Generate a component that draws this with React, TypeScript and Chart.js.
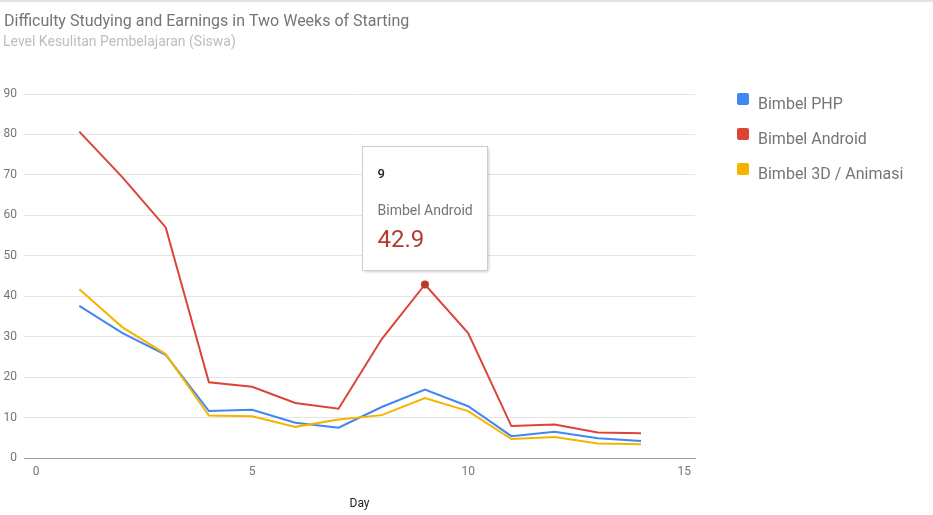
import React, { useEffect, useRef } from "react";
import { Chart, registerables } from "chart.js";

Chart.register(...registerables);

const titleText = "Difficulty Studying and Earnings in Two Weeks of Starting";
const subtitleText = "Level Kesulitan Pembelajaran (Siswa)";
const xAxisTitle = "Day";
const days = [1, 2, 3, 4, 5, 6, 7, 8, 9, 10, 11, 12, 13, 14];
const phpValues = [37.6, 30.9, 25.5, 11.6, 11.9, 8.7, 7.5, 12.6, 16.9, 12.8, 5.4, 6.5, 4.9, 4.2];
const androidValues = [80.7, 69.4, 57.0, 18.7, 17.6, 13.6, 12.2, 29.4, 42.9, 30.9, 7.9, 8.3, 6.3, 6.1];
const animasiValues = [41.7, 32.3, 25.7, 10.5, 10.3, 7.7, 9.5, 10.6, 14.8, 11.6, 4.7, 5.2, 3.6, 3.4];
const seriesNames = ["Bimbel PHP", "Bimbel Android", "Bimbel 3D / Animasi"];
const seriesColors = ["#4285f4", "#db4437", "#f4b400"];
const xTickValues = [0, 5, 10, 15];
const highlightIndex = 8;

const FONT = "Roboto, 'Noto Sans', sans-serif";

const decorPlugin = {
  id: "decor",
  afterDraw(chart: any) {
    const ctx = chart.ctx as CanvasRenderingContext2D;
    ctx.save();
    // top rule
    ctx.strokeStyle = "#e3e3e3";
    ctx.lineWidth = 2;
    ctx.beginPath();
    ctx.moveTo(0, 1);
    ctx.lineTo(chart.width, 1);
    ctx.stroke();
    // titles
    ctx.textAlign = "left";
    ctx.textBaseline = "alphabetic";
    ctx.fillStyle = "#757575";
    ctx.font = `16px ${FONT}`;
    ctx.fillText(titleText, 4, 26);
    ctx.fillStyle = "#bdbdbd";
    ctx.font = `14px ${FONT}`;
    ctx.fillText(subtitleText, 3, 46);
    // legend
    seriesNames.forEach((name, i) => {
      const y = 93 + i * 35;
      ctx.fillStyle = seriesColors[i];
      ctx.beginPath();
      (ctx as any).roundRect(737, y, 12, 12, 2);
      ctx.fill();
      ctx.fillStyle = "#757575";
      ctx.font = `16px ${FONT}`;
      ctx.fillText(name, 758, y + 16);
    });
    // tooltip
    const xs = chart.scales.x;
    const ys = chart.scales.y;
    const px = xs.getPixelForValue(days[highlightIndex]);
    const py = ys.getPixelForValue(androidValues[highlightIndex]);
    const w = 125;
    const h = 124;
    const bx = Math.round(px - w / 2) + 0.5;
    const by = Math.round(py - 14 - h) + 0.5;
    ctx.shadowColor = "rgba(0,0,0,0.25)";
    ctx.shadowBlur = 3;
    ctx.shadowOffsetX = 1;
    ctx.shadowOffsetY = 1;
    ctx.fillStyle = "#ffffff";
    ctx.fillRect(bx, by, w, h);
    ctx.shadowColor = "transparent";
    ctx.strokeStyle = "#cccccc";
    ctx.lineWidth = 1;
    ctx.strokeRect(bx, by, w, h);
    ctx.fillStyle = "#222222";
    ctx.font = `500 13px ${FONT}`;
    ctx.fillText(String(days[highlightIndex]), bx + 15, by + 31);
    ctx.fillStyle = "#757575";
    ctx.font = `14px ${FONT}`;
    ctx.fillText(seriesNames[1], bx + 15, by + 68);
    ctx.fillStyle = "#b73a2e";
    ctx.font = `24px ${FONT}`;
    ctx.fillText(String(androidValues[highlightIndex]), bx + 15, by + 100);
    ctx.restore();
  },
};

export default function App() {
  const ref = useRef<HTMLCanvasElement | null>(null);
  useEffect(() => {
    if (!ref.current) return;
    const mk = (vals: number[]) => days.map((d, i) => ({ x: d, y: vals[i] }));
    const chart = new Chart(ref.current, {
      type: "line",
      data: {
        datasets: [
          {
            label: seriesNames[0],
            data: mk(phpValues),
            borderColor: seriesColors[0],
            backgroundColor: seriesColors[0],
            borderWidth: 2,
            pointRadius: 0,
            tension: 0,
            order: 3,
          },
          {
            label: seriesNames[1],
            data: mk(androidValues),
            borderColor: seriesColors[1],
            backgroundColor: "#b73a2e",
            borderWidth: 2,
            pointRadius: (c: any) => (c.dataIndex === highlightIndex ? 4 : 0),
            pointBorderWidth: 0,
            tension: 0,
            order: 2,
          },
          {
            label: seriesNames[2],
            data: mk(animasiValues),
            borderColor: seriesColors[2],
            backgroundColor: seriesColors[2],
            borderWidth: 2,
            pointRadius: 0,
            tension: 0,
            order: 1,
          },
        ],
      },
      options: {
        animation: false,
        responsive: false,
        devicePixelRatio: 1,
        layout: { padding: { top: 94, right: 238, bottom: 0, left: 0 } },
        plugins: { legend: { display: false }, tooltip: { enabled: false }, title: { display: false } },
        scales: {
          x: {
            type: "linear",
            min: -0.28,
            max: 15.25,
            afterBuildTicks: (s: any) => {
              s.ticks = xTickValues.map((v) => ({ value: v }));
            },
            afterFit: (s: any) => {
              s.height = 57;
            },
            grid: { display: false, drawTicks: false },
            border: { display: true, color: "#9e9e9e", width: 1 },
            ticks: { color: "#757575", font: { family: FONT, size: 12 }, padding: 7, maxRotation: 0 },
            title: {
              display: true,
              text: xAxisTitle,
              color: "#222222",
              font: { family: FONT, size: 12 },
              padding: { top: 0, bottom: 4 },
            },
          },
          y: {
            min: 0,
            max: 90,
            afterFit: (s: any) => {
              s.width = 24;
            },
            ticks: { stepSize: 10, color: "#757575", font: { family: FONT, size: 12 }, padding: 7 },
            grid: {
              drawTicks: false,
              color: (c: any) => (c.tick && c.tick.value === 0 ? "#9e9e9e" : "#e5e5e5"),
              lineWidth: 1,
            },
            border: { display: false },
          },
        },
      },
      plugins: [decorPlugin],
    } as any);
    return () => chart.destroy();
  }, []);
  return (
    <div style={{ position: "absolute", left: 0, top: 0, width: 933, height: 515, background: "#fff" }}>
      <canvas ref={ref} width={933} height={515} style={{ display: "block", width: 933, height: 515 }} />
    </div>
  );
}
